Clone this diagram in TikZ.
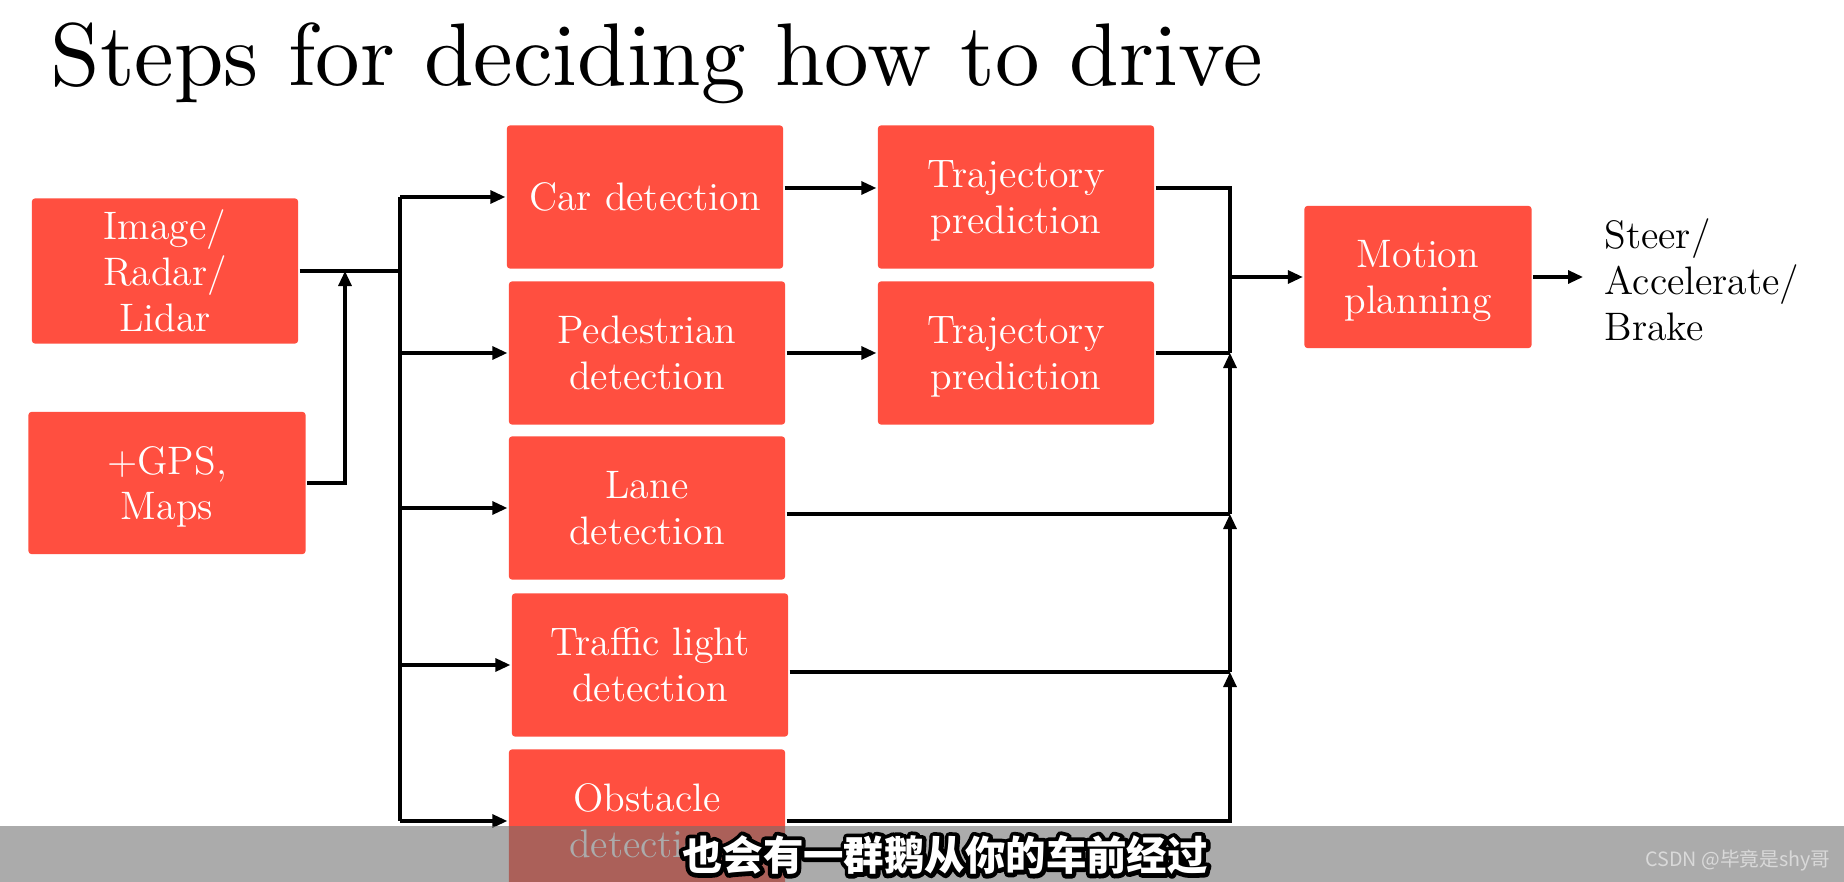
\documentclass[tikz,border=0pt]{standalone}
\usepackage{fontspec}
\usepackage{tikz}
\usetikzlibrary{arrows.meta}
\newfontfamily\cjk{Noto Sans CJK SC}
\definecolor{boxred}{HTML}{FF4F40}
\definecolor{bargray}{HTML}{6D6D6D}
\newcommand{\nodp}[1]{\raisebox{0pt}[\height][0pt]{#1}} % drop descender depth

\begin{document}
\begin{tikzpicture}[x=0.01cm,y=-0.01cm,line width=0.9pt,
  block/.style={fill=boxred,text=white,rounded corners=0.03cm,align=center,
    minimum width=2.76cm,minimum height=1.43cm,font=\fontsize{11.3}{13}\selectfont},
  arr/.style={-{Triangle[length=0.15cm,width=0.13cm]}}]

\clip (0,0) rectangle (1844,882);
\fill[white] (0,0) rectangle (1844,882);

\node[anchor=base west,inner sep=0pt] (title) at (49,86) {\scalebox{2.53}{\fontsize{10}{12}\selectfont Steps for deciding how to drive}};

% sensors
\node[block,minimum width=2.66cm] (img) at (165,271) {Image/\\Radar/\\Lidar};
\node[block,minimum width=2.77cm,minimum height=1.42cm] (gps) at (167,483) {+GPS,\\\nodp{Maps}};

% detection stage
\node[block] (car) at (645,197) {Car detection};
\node[block] (ped) at (647,353) {Pedestrian\\detection};
\node[block] (lane) at (647,508) {Lane\\detection};
\node[block] (tl) at (650,665) {Traffic light\\detection};
\node[block] (obs) at (647,821) {Obstacle\\detection};

% prediction stage
\node[block] (traj1) at (1016,197) {Trajectory\\\nodp{prediction}};
\node[block] (traj2) at (1016,353) {Trajectory\\\nodp{prediction}};

% planning
\node[block,minimum width=2.27cm,minimum height=1.42cm] (motion) at (1418,277) {Motion\\\nodp{planning}};
\node[anchor=west,align=left,inner xsep=0.2cm,font=\fontsize{11.3}{13}\selectfont] (out) at (1583,280) {Steer/\\Accelerate/\\Brake};

\coordinate (bus) at (400,0);  % split line
\coordinate (gpsx) at (345,0);
\coordinate (col) at (1230,0); % merge line
\coordinate (laneout) at ([yshift=-0.06cm]lane.east);
\coordinate (tlout) at ([yshift=-0.07cm]tl.east);

% inputs into the split line
\draw (img.east) -- (img.east -| bus);
\draw[arr] (gps.east) -| (img.east -| gpsx);
\draw (car.west -| bus) -- (obs.west -| bus);
\foreach \n in {car,ped,lane,tl,obs}
  \draw[arr] (\n.west -| bus) -- (\n.west);

% detections into predictions
\draw[arr] ([yshift=0.09cm]car.east) -- ([yshift=0.09cm]traj1.west);
\draw[arr] (ped.east) -- (traj2.west);

% everything into motion planning
\draw ([yshift=0.09cm]traj1.east) -| (traj2.east -| col);
\draw (traj2.east) -- (traj2.east -| col);
\draw (laneout) -- (laneout -| col);
\draw (tlout) -- (tlout -| col);
\draw[arr] (obs.east) -| (tlout -| col);
\draw[arr] (tlout -| col) -- (laneout -| col);
\draw[arr] (laneout -| col) -- (traj2.east -| col);
\draw[arr] (motion.west -| col) -- (motion.west);
\draw[arr] (motion.east) -- (motion.east -| out.west);

% subtitle bar
\fill[bargray,fill opacity=0.57] (0,826) rectangle (1844,882);
\node[text=black,font=\fontsize{11.5}{13}\selectfont\cjk\bfseries] (subo) at (945,855)
  {\special{pdf:literal direct 1 j 1 J 2.4 w 0 G 1 Tr}也会有一群鹅从你的车前经过\special{pdf:literal direct 0 Tr}};
\node[text=white,font=\fontsize{11.5}{13}\selectfont\cjk\bfseries] (sub) at (945,855) {也会有一群鹅从你的车前经过};
\node[text=white!85!black,font=\fontsize{5.6}{7}\selectfont\cjk] (mark) at (1738,861) {CSDN @毕竟是shy哥};

\end{tikzpicture}
\end{document}
